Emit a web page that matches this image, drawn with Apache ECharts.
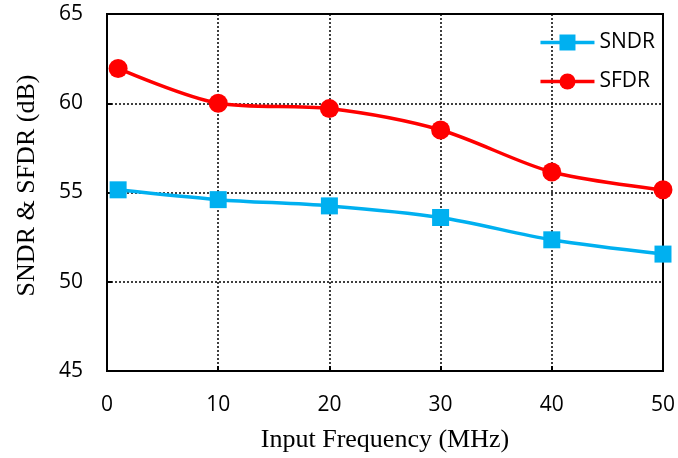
<!DOCTYPE html>
<html>
<head>
<meta charset="utf-8">
<script src="https://cdn.jsdelivr.net/npm/echarts@6/dist/echarts.min.js"></script>
<style>
  html, body { margin: 0; padding: 0; background: #fff; }
  #chart { width: 678px; height: 458px; }
</style>
</head>
<body>
<div id="chart"></div>
<script>
// data
const freqs = [1, 10, 20, 30, 40, 50];
const sndr = [55.15, 54.6, 54.25, 53.6, 52.35, 51.55];
const sfdr = [61.95, 60.0, 59.7, 58.5, 56.15, 55.15];
const xTicks = [0, 10, 20, 30, 40, 50];
const yTicks = [45, 50, 55, 60, 65];

const toPairs = (xs, ys) => xs.map((x, i) => [x, ys[i]]);

const sans = 'Open Sans, Noto Sans, sans-serif';
const serif = 'Liberation Serif, Times New Roman, serif';
const tickFont = { fontFamily: sans, fontSize: 21, color: '#000' };
const titleFont = { fontFamily: serif, fontSize: 26, color: '#000' };
const dotted = { color: '#000', type: [2, 2], width: 1.5 };

const chart = echarts.init(document.getElementById('chart'));
chart.setOption({
    animation: false,
    grid: { left: 107, right: 14, top: 14, bottom: 87, show: true, borderColor: '#000', borderWidth: 2 },
    legend: {
        right: 18, top: 27, orient: 'vertical', itemGap: 18,
        itemWidth: 54, itemHeight: 20,
        lineStyle: { width: 3.5 },
        textStyle: { fontFamily: sans, fontSize: 21, color: '#000' },
        data: ['SNDR', 'SFDR']
    },
    xAxis: {
        type: 'value', min: xTicks[0], max: xTicks[xTicks.length - 1], interval: 10,
        axisLine: { lineStyle: { color: '#000', width: 2 } },
        axisTick: { inside: true, length: 5, lineStyle: { color: '#000', width: 2 } },
        axisLabel: Object.assign({ margin: 24 }, tickFont),
        splitLine: { lineStyle: dotted },
        name: 'Input Frequency (MHz)', nameLocation: 'middle', nameGap: 56,
        nameTextStyle: titleFont
    },
    yAxis: {
        type: 'value', min: yTicks[0], max: yTicks[yTicks.length - 1], interval: 5,
        axisLine: { show: true, lineStyle: { color: '#000', width: 2 } },
        axisTick: { show: true, inside: true, length: 5, lineStyle: { color: '#000', width: 2 } },
        axisLabel: Object.assign({ margin: 24 }, tickFont),
        splitLine: { lineStyle: dotted },
        name: 'SNDR & SFDR (dB)', nameLocation: 'middle', nameGap: 67,
        nameTextStyle: Object.assign({ padding: [0, 0, 0, 14] }, titleFont)
    },
    series: [
        {
            name: 'SNDR', type: 'line', smooth: 0.3, data: toPairs(freqs, sndr),
            symbol: 'rect', symbolSize: 17,
            lineStyle: { color: '#00b0f0', width: 3.5 },
            itemStyle: { color: '#00b0f0' }
        },
        {
            name: 'SFDR', type: 'line', smooth: 0.3, data: toPairs(freqs, sfdr),
            symbol: 'circle', symbolSize: 19,
            lineStyle: { color: '#ff0000', width: 3.5 },
            itemStyle: { color: '#ff0000' }
        }
    ]
});
</script>
</body>
</html>
